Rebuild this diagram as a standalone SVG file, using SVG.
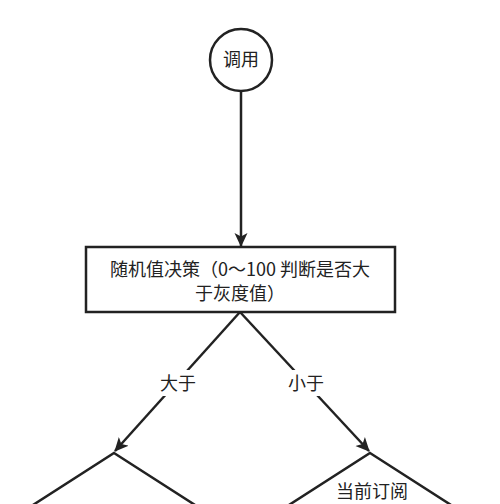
<svg xmlns="http://www.w3.org/2000/svg" width="500" height="504" viewBox="0 0 500 504">
<style>
.s{fill:#fff;stroke:#222;stroke-width:2.5}
.t{font-family:"Noto Sans CJK SC","Noto Sans",sans-serif;font-size:18px;fill:#222;text-anchor:middle}
.c{fill:none;stroke:#222;stroke-width:2.5}
</style>
<defs>
<marker id="a" markerWidth="14" markerHeight="14" refX="13" refY="7" orient="auto" markerUnits="userSpaceOnUse" viewBox="0 0 14 14">
<path d="M0,0.5 L14,7 L0,13.5 L3.5,7 Z" fill="#222"/>
</marker>
</defs>
<rect width="500" height="504" fill="#fff"/>
<g id="edges">
<line class="c" x1="241" y1="91" x2="241" y2="246" marker-end="url(#a)"/>
<line class="c" x1="240" y1="312" x2="115" y2="451" marker-end="url(#a)"/>
<line class="c" x1="240" y1="312" x2="369" y2="451" marker-end="url(#a)"/>
<rect x="159" y="370" width="38" height="26" fill="#fff"/>
<text class="t" x="178" y="390">大于</text>
<rect x="287" y="370" width="38" height="26" fill="#fff"/>
<text class="t" x="306" y="390">小于</text>
</g>
<g id="n1">
<circle class="s" cx="241" cy="60" r="31"/>
<text class="t" x="241" y="66">调用</text>
</g>
<g id="n2">
<rect class="s" x="86" y="247" width="309" height="65"/>
<text class="t" x="240" y="276">随机值决策（0～100 判断是否大</text>
<text class="t" x="240" y="300">于灰度值）</text>
</g>
<g id="n3">
<polygon class="s" points="114,453 234,530 114,607 -6,530"/>
<text class="t" x="114" y="520">从灰度组订阅</text>
</g>
<g id="n4">
<polygon class="s" points="370,453 490,530 370,607 250,530"/>
<text class="t" x="372" y="498">当前订阅</text>
<text class="t" x="378" y="522">的数据源(生产)</text>
</g>
</svg>
